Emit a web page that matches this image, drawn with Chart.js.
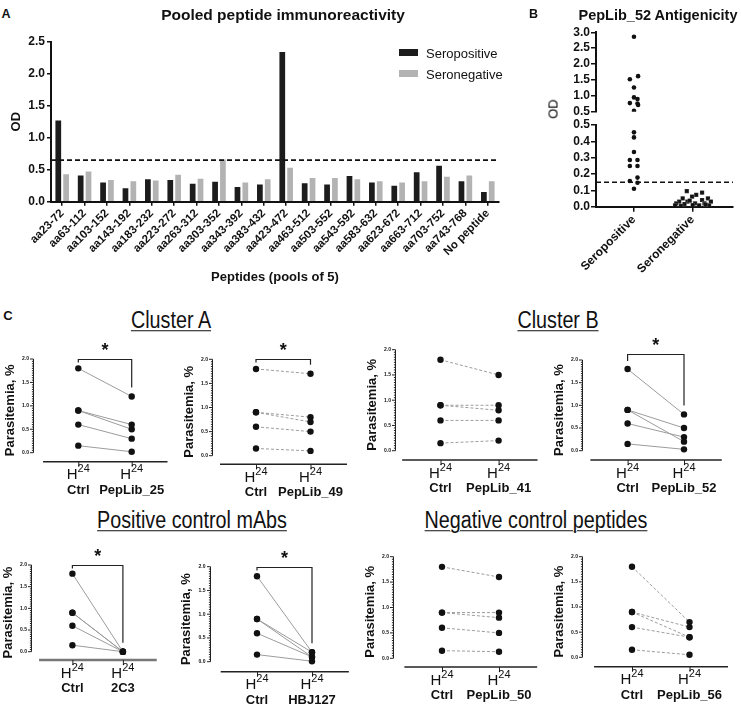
<!DOCTYPE html>
<html><head><meta charset="utf-8">
<script src="https://cdn.jsdelivr.net/npm/chart.js@4.4.1/dist/chart.umd.min.js"></script>
<style>
html,body{margin:0;padding:0;background:#fff;}
body{width:741px;height:711px;position:relative;overflow:hidden;font-family:"Liberation Sans",Arial,Helvetica,sans-serif;color:#111;}
canvas{position:absolute;}
.t{position:absolute;white-space:nowrap;line-height:1;transform:translate(-50%,-50%);color:#111;}
</style></head><body>
<script>
// ================= DATA =================
// Panel A
const peptidePools = ['aa23-72','aa63-112','aa103-152','aa143-192','aa183-232','aa223-272','aa263-312','aa303-352','aa343-392','aa383-432','aa423-472','aa463-512','aa503-552','aa543-592','aa583-632','aa623-672','aa663-712','aa703-752','aa743-768','No peptide'];
const seropositiveOD = [1.27,0.41,0.30,0.21,0.35,0.34,0.28,0.31,0.23,0.27,2.34,0.29,0.27,0.40,0.30,0.25,0.46,0.56,0.32,0.15];
const seronegativeOD = [0.43,0.47,0.34,0.32,0.33,0.42,0.36,0.66,0.30,0.35,0.53,0.37,0.37,0.35,0.32,0.30,0.32,0.39,0.41,0.32];
const seriesNamesA = ['Seropositive','Seronegative'];
const cutoffA = 0.65;
const titleA = 'Pooled peptide immunoreactivity';

// Panel B
const groupsB = ['Seropositive','Seronegative'];
const seropositiveB = [2.86,1.62,1.52,1.26,0.95,0.90,0.77,0.76,0.71,0.53,0.455,0.424,0.335,0.286,0.286,0.249,0.249,0.178,0.157,0.147,0.11];
const seropositiveJitter = [0,0.07,-0.07,0,0,0.06,-0.07,0.06,0.07,0,0,0,0,-0.07,0.06,-0.07,0.06,0.06,-0.07,0.06,0];
const seronegativeB = [0.096,0.086,0.073,0.061,0.051,0.051,0.041,0.031,0.031,0.031,0.020,0.016,0.020,0.020,0.008,0.010,0.008,0.008,0.037,0.012,0.005];
const seronegativeJitter = [-0.10,0.16,0.06,-0.01,-0.17,0.26,0.16,-0.23,-0.09,0.31,-0.28,-0.14,0.04,0.20,-0.30,0,0.11,0.28,-0.05,0.22,-0.20];
const cutoffB = 0.15;
const titleB = 'PepLib_52 Antigenicity';

// Panel C
const ctrlLabel = 'Ctrl';
const timepointLetter = 'H';
const timepointHours = '24';
const cTreatments = ['PepLib_25','PepLib_49','PepLib_41','PepLib_52','2C3','HBJ127','PepLib_50','PepLib_56'];
const cCtrlValues = [1.8,0.9,0.9,0.6,0.15];
const cTreatValues = [
  [1.2,0.6,0.5,0.3,0.02],
  [1.7,0.8,0.7,0.5,0.10],
  [1.5,0.9,0.8,0.6,0.20],
  [0.8,0.5,0.2,0.3,0.03],
  [0.0,0.0,0.0,0.0,0.0],
  [0.2,0.2,0.1,0.1,0.01],
  [1.6,0.9,0.8,0.5,0.13],
  [0.7,0.6,0.4,0.4,0.05]];
const cSignificant = [true,true,false,true,true,true,false,false];
const cYTitle = 'Parasitemia, %';
const cYTicks = [0,0.5,1,1.5,2];
const groupHeadings = ['Cluster A','Cluster B','Positive control mAbs','Negative control peptides'];

// ================= SETUP =================
const FONT = '"Liberation Sans", Arial, Helvetica, sans-serif';
Chart.defaults.font.family = FONT;
Chart.defaults.color = '#111';

function makeCanvas(x, y, w, h){
  const c = document.createElement('canvas');
  c.width = w; c.height = h;
  c.style.left = x + 'px'; c.style.top = y + 'px';
  c.style.width = w + 'px'; c.style.height = h + 'px';
  document.body.appendChild(c);
  return c;
}
function text(str, cx, cy, style){
  const d = document.createElement('div');
  d.className = 't'; d.textContent = str;
  d.style.left = cx + 'px'; d.style.top = cy + 'px';
  Object.assign(d.style, style || {});
  document.body.appendChild(d);
  return d;
}
const fixW = w => s => { s.width = w; s.paddingTop = 0; s.paddingBottom = 0; s.paddingLeft = 0; s.paddingRight = 0; };
const fixH = h => s => { s.height = h; s.paddingTop = 0; s.paddingBottom = 0; s.paddingLeft = 0; s.paddingRight = 0; };
const baseOpts = {responsive:false, animation:false, devicePixelRatio:1, events:[]};

const cutoffPlugin = {
  id:'cutoff',
  afterDatasetsDraw(chart, args, o){
    if (o.value == null) return;
    const {ctx, chartArea:a, scales:{y}} = chart;
    const py = y.getPixelForValue(o.value);
    ctx.save();
    ctx.setLineDash([5,3]); ctx.lineWidth = 1.6; ctx.strokeStyle = '#111';
    ctx.beginPath(); ctx.moveTo(a.left, py); ctx.lineTo(a.right, py); ctx.stroke();
    ctx.restore();
  }
};

// ================= PANEL A =================
(function(){
  const cl = 0, ct = 22, cw = 512, ch = 280;
  const L = 51, T = 41.7, R = 499, B = 201.7, yW = 46.1, xH = 87.1;
  const cv = makeCanvas(cl, ct, cw, ch);
  const chart = new Chart(cv, {
    type:'bar',
    data:{labels: peptidePools, datasets:[
      {label: seriesNamesA[0], data: seropositiveOD, backgroundColor:'#1c1c1c'},
      {label: seriesNamesA[1], data: seronegativeOD, backgroundColor:'#b3b3b3'}]},
    options:Object.assign({}, baseOpts, {
      layout:{padding:{left:L-cl-yW, top:T-ct, right:cl+cw-R, bottom:ct+ch-B-xH}},
      datasets:{bar:{categoryPercentage:0.7, barPercentage:0.73}},
      plugins:{legend:{display:false}, tooltip:{enabled:false}, cutoff:{value:cutoffA}},
      scales:{
        x:{offset:true,
           grid:{offset:false, drawOnChartArea:false, drawTicks:true, tickLength:4, color:'#111', lineWidth:1.5},
           border:{display:true, color:'#111', width:2},
           ticks:{autoSkip:false, minRotation:45, maxRotation:45, padding:1, font:{size:11.5, weight:'bold'}, color:'#111'},
           title:{display:true, text:'Peptides (pools of 5)', font:{size:13, weight:'bold'}, padding:{top:4,bottom:4}, color:'#111'},
           afterFit: fixH(xH)},
        y:{min:0, max:2.5,
           grid:{drawOnChartArea:false, drawTicks:true, tickLength:4, color:'#111', lineWidth:1.5},
           border:{display:true, color:'#111', width:2},
           ticks:{stepSize:0.5, autoSkip:false, padding:2, callback:v=>Number(v).toFixed(1), font:{size:12, weight:'bold'}, color:'#111'},
           title:{display:true, text:'OD', font:{size:13, weight:'bold'}, padding:{top:4,bottom:4}, color:'#111'},
           afterFit: fixW(yW)}
      }
    }),
    plugins:[cutoffPlugin]
  });
  // legend built from the chart's datasets
  chart.data.datasets.forEach((ds, i) => {
    const sw = document.createElement('div');
    Object.assign(sw.style, {position:'absolute', left:'399px', top:(48.5 + i*21.5)+'px', width:'19px', height:'7px', background:ds.backgroundColor});
    document.body.appendChild(sw);
    text(ds.label, 426, 52.5 + i*21.5, {transform:'translate(0,-50%)', fontSize:'13px'});
  });
})();
text('A', 6, 14, {fontSize:'12.5px', fontWeight:'bold'});
text(titleA, 283, 15, {fontSize:'15.5px', fontWeight:'bold'});

// ================= PANEL B =================
(function(){
  const xMin = 0.353, xMax = 2.687;
  const L = 596, R = 733;
  const pts = (vals, jit, gi, keep) => vals.map((v,i)=>({x: gi + 1 + jit[i], y: v})).filter(p => keep(p.y));
  const upperKeep = v => v > 0.5, lowerKeep = v => v <= 0.5;
  const mkDatasets = keep => [
    {label: groupsB[0], data: pts(seropositiveB, seropositiveJitter, 0, keep), pointStyle:'circle', pointRadius:2.3, backgroundColor:'#111', borderWidth:0},
    {label: groupsB[1], data: pts(seronegativeB, seronegativeJitter, 1, keep), pointStyle:'rect', pointRadius:3, backgroundColor:'#111', borderColor:'#fff', borderWidth:0.2}
  ];
  // upper segment (0.5 - 3.0)
  {
    const cl = 525, ct = 22, cw = 216, ch = 96;
    const T = 32.3, B = 111.7, yW = 60;
    const cv = makeCanvas(cl, ct, cw, ch);
    new Chart(cv, {type:'scatter', data:{datasets: mkDatasets(upperKeep)},
      options:Object.assign({}, baseOpts, {
        layout:{padding:{left:L-cl-yW, top:T-ct, right:cl+cw-R, bottom:ct+ch-B}},
        plugins:{legend:{display:false}, tooltip:{enabled:false}},
        scales:{
          x:{type:'linear', min:xMin, max:xMax, display:false},
          y:{min:0.5, max:3.0,
             grid:{drawOnChartArea:false, drawTicks:true, tickLength:5, color:'#111', lineWidth:1.5},
             border:{display:true, color:'#111', width:2},
             ticks:{stepSize:0.5, autoSkip:false, padding:1, callback:v=>Number(v).toFixed(1), font:{size:12, weight:'bold'}, color:'#111'},
             afterFit: fixW(yW)}
        }
      })});
  }
  // lower segment (0 - 0.5)
  {
    const cl = 525, ct = 118, cw = 216, ch = 184;
    const T = 125, B = 206.7, yW = 60, xH = 80;
    const cv = makeCanvas(cl, ct, cw, ch);
    new Chart(cv, {type:'scatter', data:{datasets: mkDatasets(lowerKeep)},
      options:Object.assign({}, baseOpts, {
        layout:{padding:{left:L-cl-yW, top:T-ct, right:cl+cw-R, bottom:ct+ch-B-xH}},
        plugins:{legend:{display:false}, tooltip:{enabled:false}, cutoff:{value:cutoffB}},
        scales:{
          x:{type:'linear', min:xMin, max:xMax,
             afterBuildTicks: s => { s.ticks = groupsB.map((g,i)=>({value:i+1})); },
             grid:{drawOnChartArea:false, drawTicks:true, tickLength:5, color:'#111', lineWidth:1.5},
             border:{display:true, color:'#111', width:2},
             ticks:{autoSkip:false, minRotation:45, maxRotation:45, padding:1, callback:v=>groupsB[Math.round(v)-1], font:{size:12, weight:'bold'}, color:'#111'},
             afterFit: fixH(xH)},
          y:{min:0, max:0.5,
             grid:{drawOnChartArea:false, drawTicks:true, tickLength:5, color:'#111', lineWidth:1.5},
             border:{display:true, color:'#111', width:2},
             ticks:{stepSize:0.1, autoSkip:false, padding:1, callback:v=>Number(v).toFixed(1), font:{size:12, weight:'bold'}, color:'#111'},
             afterFit: fixW(yW)}
        }
      }),
      plugins:[cutoffPlugin]});
  }
})();
text('B', 533.5, 14, {fontSize:'12.5px', fontWeight:'bold'});
text(titleB, 658, 15, {fontSize:'14.5px', fontWeight:'bold'});
text('OD', 552.5, 109, {fontSize:'13px', color:'#000', transform:'translate(-50%,-50%) rotate(-90deg)'});

// ================= PANEL C =================
text('C', 8, 315, {fontSize:'13px', fontWeight:'bold'});
const headPos = [[171,320.5],[558,320.5],[191.5,520.7],[536,520.7]];
groupHeadings.forEach((h,i)=>text(h, headPos[i][0], headPos[i][1], {fontSize:'23.5px', textDecoration:'underline', textDecorationThickness:'1px', textUnderlineOffset:'2px', transform:'translate(-50%,-50%) scaleX(0.84)'}));

// page geometry of each small panel (y-axis x, pixel of 2.0, pixel of 0, x-axis y, ctrl x, treatment x)
const cGeom = [
  {ax:33,    y2:359,   y0:452.7, axisY:461.7, cx:78.3,  tx:131.7, sig:2.0,  dash:false},
  {ax:212,   y2:359.3, y0:455.7, axisY:464.3, cx:256,   tx:310.5, sig:2.0,  dash:true},
  {ax:395,   y2:349.7, y0:450.7, axisY:460,   cx:440.5, tx:498.6, sig:2.0,  dash:true},
  {ax:582,   y2:360,   y0:450.7, axisY:460,   cx:627.6, tx:684,   sig:2.13, dash:false},
  {ax:31,    y2:565,   y0:651.7, axisY:660,   cx:72.4,  tx:122.9, sig:2.0,  dash:false, axisColor:'#777', axisWidth:2.5},
  {ax:209.5, y2:566.7, y0:661.7, axisY:671.7, cx:257,   tx:312,   sig:2.0,  dash:false},
  {ax:393,   y2:556.7, y0:658.3, axisY:667,   cx:442,   tx:499,   sig:2.0,  dash:true},
  {ax:582,   y2:556.7, y0:657.3, axisY:666.7, cx:632,   tx:689.5, sig:2.0,  dash:true}
];

const cPlugin = {
  id:'cDecor',
  afterDraw(chart, args, o){
    const {ctx, chartArea:a, scales:{x, y}} = chart;
    ctx.save();
    // y axis (0 to 2) with minor ticks
    ctx.strokeStyle = '#222'; ctx.lineWidth = 1;
    const yT = y.getPixelForValue(2), yB = y.getPixelForValue(0);
    const axx = Math.round(a.left) + 0.5;
    ctx.beginPath();
    ctx.moveTo(axx, yT); ctx.lineTo(axx, yB);
    for (let i = 0; i <= 40; i++) {
      const py = y.getPixelForValue(i * 0.05);
      const len = i % 10 === 0 ? 3.5 : 1.6;
      ctx.moveTo(axx, py); ctx.lineTo(axx - len, py);
    }
    ctx.stroke();
    // x axis
    const xa = a.bottom;
    ctx.lineWidth = o.axisWidth; ctx.strokeStyle = o.axisColor;
    ctx.beginPath(); ctx.moveTo(x.getPixelForValue(-0.66), xa); ctx.lineTo(x.getPixelForValue(1.67), xa); ctx.stroke();
    ctx.lineWidth = 1; ctx.strokeStyle = '#222'; ctx.fillStyle = '#111';
    o.labels.forEach((lab, i) => {
      const px = x.getPixelForValue(i);
      ctx.beginPath(); ctx.moveTo(px + 0.5, xa); ctx.lineTo(px + 0.5, xa + 5); ctx.stroke();
      ctx.textBaseline = 'alphabetic'; ctx.textAlign = 'left';
      ctx.font = '15px ' + FONT; const wH = ctx.measureText(timepointLetter).width;
      ctx.font = '11px ' + FONT; const wS = ctx.measureText(timepointHours).width;
      const x0 = px - (wH + wS) / 2;
      ctx.font = '15px ' + FONT; ctx.fillText(timepointLetter, x0, xa + 17.6);
      ctx.font = '11px ' + FONT; ctx.fillText(timepointHours, x0 + wH, xa + 10.5);
      ctx.font = 'bold 13px ' + FONT; ctx.textAlign = 'center'; ctx.textBaseline = 'middle';
      ctx.fillText(lab, px, xa + 28.3);
    });
    if (o.sig) {
      const x0 = x.getPixelForValue(0), x1 = x.getPixelForValue(1);
      const sy = Math.round(y.getPixelForValue(o.sigValue)) + 0.5;
      const l0 = Math.max(sy + 3, y.getPixelForValue(o.max0) - 8);
      const l1 = Math.max(sy + 3, y.getPixelForValue(o.max1) - 9);
      ctx.strokeStyle = '#222'; ctx.lineWidth = 1.2;
      ctx.beginPath(); ctx.moveTo(x0, l0); ctx.lineTo(x0, sy); ctx.lineTo(x1, sy); ctx.lineTo(x1, l1); ctx.stroke();
      ctx.font = 'bold 18px ' + FONT; ctx.textAlign = 'center'; ctx.textBaseline = 'middle';
      ctx.fillText('*', (x0 + x1) / 2, sy - 12 + 4);
    }
    ctx.restore();
  }
};

cTreatments.forEach((name, k) => {
  const g = cGeom[k];
  const pxY = (g.y0 - g.y2) / 2;
  const yMin = -(g.axisY - g.y0) / pxY;
  const pxX = g.tx - g.cx;
  const chartRight = g.tx + 40;
  const xMin = -(g.cx - g.ax) / pxX, xMax = (chartRight - g.cx) / pxX;
  const cl = Math.round(g.ax - 42), ct = Math.round(g.y2 - 30);
  const cw = Math.round(g.tx + 48) - cl, ch = Math.round(g.axisY + 42) - ct;
  const yW = 30.8;
  const cv = makeCanvas(cl, ct, cw, ch);
  const datasets = cCtrlValues.map((cv0, i) => ({
    data:[{x:0, y:cv0}, {x:1, y:cTreatValues[k][i]}],
    showLine:true, borderColor:'#9c9c9c', borderWidth:1, borderDash: g.dash ? [3,2] : [],
    pointRadius:3.2, pointBackgroundColor:'#111', pointBorderWidth:0
  }));
  new Chart(cv, {type:'scatter', data:{datasets},
    options:Object.assign({}, baseOpts, {
      layout:{padding:{left:g.ax - cl - yW, top:g.y2 - ct, right:cl + cw - chartRight, bottom:ct + ch - g.axisY}},
      plugins:{legend:{display:false}, tooltip:{enabled:false},
        cDecor:{labels:[ctrlLabel, name], sig:cSignificant[k], sigValue:g.sig,
                max0:Math.max(...cCtrlValues), max1:Math.max(...cTreatValues[k]),
                axisColor:g.axisColor || '#222', axisWidth:g.axisWidth || 1.5}},
      scales:{
        x:{type:'linear', min:xMin, max:xMax, display:false},
        y:{min:yMin, max:2,
           afterBuildTicks: s => { s.ticks = cYTicks.map(v=>({value:v})); },
           grid:{display:false, drawTicks:false}, border:{display:false},
           ticks:{autoSkip:false, padding:4, callback:v=>Number(v).toFixed(1), font:{size:5, weight:'bold'}, color:'#111'},
           title:{display:true, text:cYTitle, font:{size:13, weight:'bold'}, padding:{top:0,bottom:0}, color:'#111'},
           afterFit: fixW(yW)}
      }
    }),
    plugins:[cPlugin]});
});
</script>
</body></html>
